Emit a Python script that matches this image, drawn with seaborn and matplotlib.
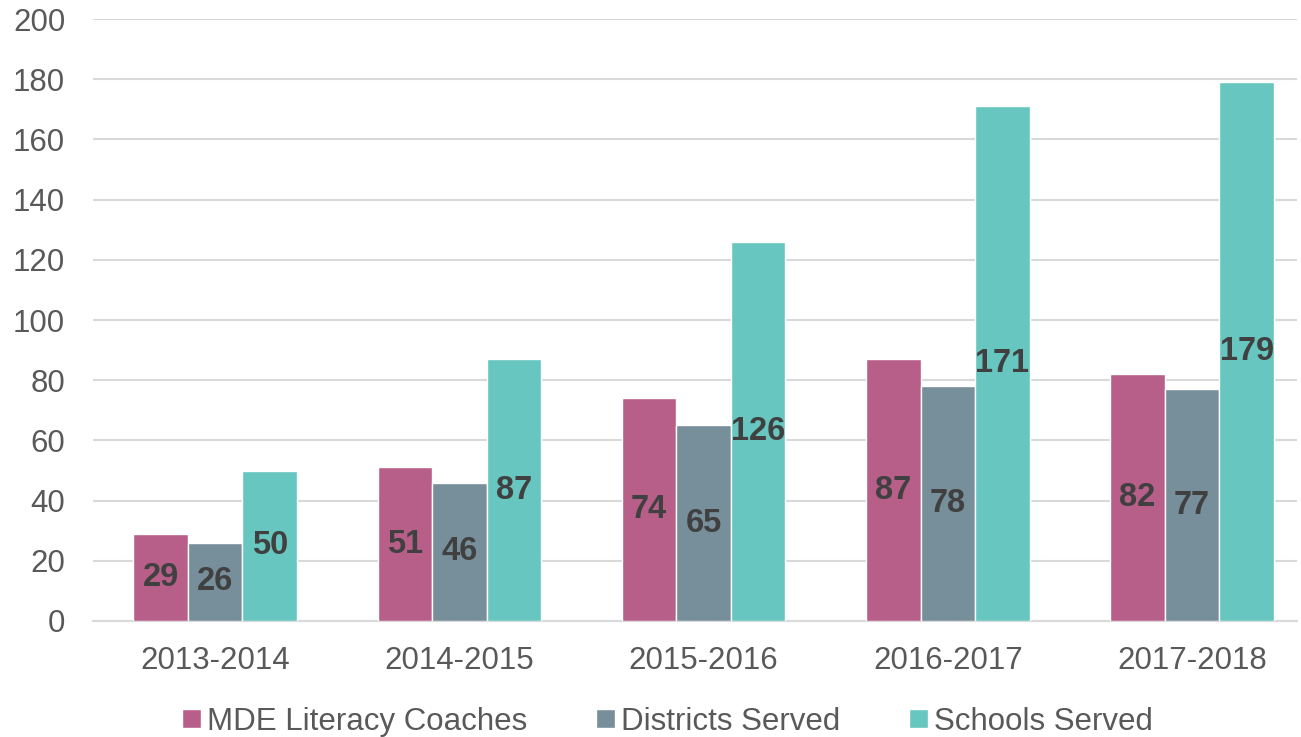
import numpy as np
import pandas as pd
import matplotlib
matplotlib.use("Agg")
import matplotlib.pyplot as plt
import seaborn as sns

# === Data ===
years = ["2013-2014", "2014-2015", "2015-2016", "2016-2017", "2017-2018"]
coaches = [29, 51, 74, 87, 82]
districts = [26, 46, 65, 78, 77]
schools = [50, 87, 126, 171, 179]
series_names = ["MDE Literacy Coaches", "Districts Served", "Schools Served"]
colors = ["#B85F89", "#778F9B", "#67C6C0"]

df = pd.DataFrame({
    "year": years * 3,
    "series": [series_names[0]] * 5 + [series_names[1]] * 5 + [series_names[2]] * 5,
    "value": coaches + districts + schools,
})

# === Plot ===
sns.set_style("white")
plt.rcParams["font.family"] = ["Liberation Sans", "DejaVu Sans"]

fig = plt.figure(figsize=(13.01, 7.37), dpi=100)
ax = fig.add_axes([0.0715, 0.1574, 0.9255, 0.8168])

sns.barplot(data=df, x="year", y="value", hue="series", palette=colors,
            saturation=1, width=0.67, edgecolor="white", linewidth=1,
            ax=ax, zorder=3)

for cont in ax.containers:
    labels = [f"{int(b.get_height())}" for b in cont]
    ax.bar_label(cont, labels=labels, label_type="center", fontsize=23.5,
                 fontweight="bold", color="#404040")

ax.set_ylim(0, 200)
ax.set_yticks(range(0, 201, 20))
ax.set_xlim(-0.5, 4.43)
ax.yaxis.grid(True, color="#D9D9D9", linewidth=1.5, zorder=0)
ax.set_axisbelow(True)
for s in ["top", "right", "left"]:
    ax.spines[s].set_visible(False)
ax.spines["bottom"].set_color("#D9D9D9")
ax.spines["bottom"].set_linewidth(1.5)
ax.tick_params(axis="both", length=0, labelsize=22.5, labelcolor="#595959")
ax.tick_params(axis="x", pad=18)
ax.tick_params(axis="y", pad=20)
ax.set_xlabel("")
ax.set_ylabel("")

handles, lbls = ax.get_legend_handles_labels()
ax.legend(handles, lbls, loc="center", bbox_to_anchor=(0.477, -0.167),
          ncol=3, frameon=False, fontsize=22.5, labelcolor="#595959",
          handlelength=0.6, handleheight=0.6, handletextpad=0.2, columnspacing=2.2)

fig.savefig("out.png", dpi=100)
